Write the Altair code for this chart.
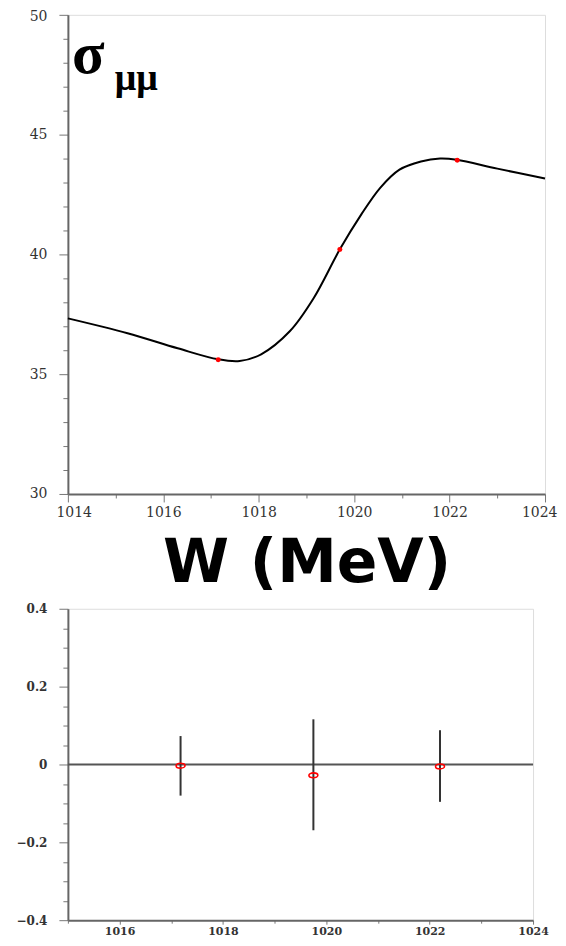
import altair as alt
import pandas as pd

# ---- data: fitted cross section curve (top panel) ----
curve_w = [1014.0, 1015.25, 1016.3, 1017.15, 1017.6, 1018.05, 1018.65, 1019.15,
           1019.7, 1020.15, 1020.55, 1020.95, 1021.4, 1021.8, 1022.15, 1023.0, 1024.0]
curve_s = [37.33, 36.71, 36.08, 35.62, 35.55, 35.83, 36.79, 38.17,
           40.21, 41.67, 42.79, 43.54, 43.88, 44.0, 43.95, 43.58, 43.17]

# ---- data: measured points ----
pt_w = [1017.15, 1019.7, 1022.16]
pt_s = [35.6, 40.2, 43.93]

# ---- data: residuals (bottom panel) ----
res_w = [1017.18, 1019.75, 1022.2]
res_v = [-0.003, -0.028, -0.005]
res_lo = [-0.08, -0.169, -0.096]
res_hi = [0.073, 0.116, 0.088]

top_x_ticks = [1014 + 0.5 * i for i in range(21)]
top_y_ticks = [30 + i for i in range(21)]
bot_x_ticks = [1015 + 0.5 * i for i in range(19)]
bot_y_ticks = [round(-0.4 + 0.05 * i, 2) for i in range(17)]

curve_df = pd.DataFrame({"W": curve_w, "S": curve_s})
pts_df = pd.DataFrame({"W": pt_w, "S": pt_s})
res_df = pd.DataFrame({"W": res_w, "V": res_v, "lo": res_lo, "hi": res_hi})
one = pd.DataFrame({"a": [0]})

DOMAIN = "#666666"
TICK = "#777777"
LAB = "#333333"

xs_top = alt.Scale(domain=[1014, 1024], nice=False, zero=False)
ys_top = alt.Scale(domain=[30, 50], nice=False, zero=False)

x_top_axis = alt.Axis(
    values=top_x_ticks, format="d",
    labelExpr="datum.value % 2 === 0 ? datum.label : ''",
    tickSize={"expr": "datum.value % 2 === 0 ? 8 : 4"},
    grid=False, domainColor=DOMAIN, domainWidth=2, tickColor=TICK,
    labelFont="DejaVu Serif", labelFontSize=14, labelColor=LAB, labelPadding=4,
    labelOverlap=False, labelFlush=True, labelFlushOffset=12,
    title="W (MeV)", titleFont="DejaVu Sans", titleFontWeight="bold",
    titleFontSize=60, titleColor="black", titlePadding=15,
)
y_top_axis = alt.Axis(
    values=top_y_ticks, format="d",
    labelExpr="datum.value % 5 === 0 ? datum.label : ''",
    labelOffset={"expr": "datum.value === 50 ? 2 : 0"},
    tickSize={"expr": "datum.value % 5 === 0 ? 9 : 5"},
    grid=False, domainColor=DOMAIN, domainWidth=2, tickColor=TICK,
    labelFont="DejaVu Serif", labelFontSize=14, labelColor=LAB, labelPadding=12,
    labelOverlap=False, labelFlush=False,
    title=None, minExtent=54,
)

curve = alt.Chart(curve_df).mark_line(color="black", strokeWidth=2, interpolate="catmull-rom").encode(
    x=alt.X("W:Q", scale=xs_top, axis=x_top_axis),
    y=alt.Y("S:Q", scale=ys_top, axis=y_top_axis),
)
dots = alt.Chart(pts_df).mark_point(filled=True, color="red", size=25, opacity=1).encode(
    x=alt.X("W:Q", scale=xs_top, axis=x_top_axis),
    y=alt.Y("S:Q", scale=ys_top, axis=y_top_axis),
)
sigma = alt.Chart(one).mark_text(text="σ", font="Liberation Serif", fontSize=60, fontWeight="bold",
                                 align="left", baseline="alphabetic", color="black").encode(
    x=alt.value(4), y=alt.value(58)
)
mumu = alt.Chart(one).mark_text(text="μμ", font="Liberation Serif", fontSize=38, fontWeight="bold",
                                align="left", baseline="alphabetic", color="black").encode(
    x=alt.value(47), y=alt.value(75)
)

top = alt.layer(curve, dots, sigma, mumu).properties(width=478, height=480)

xs_bot = alt.Scale(domain=[1015, 1024], nice=False, zero=False)
ys_bot = alt.Scale(domain=[-0.4, 0.4], nice=False, zero=False)

x_bot_axis = alt.Axis(
    values=bot_x_ticks, format="d",
    labelExpr="datum.value % 2 === 0 ? datum.label : ''",
    tickSize={"expr": "datum.value % 2 === 0 ? 4 : 3"},
    grid=False, domainColor=DOMAIN, domainWidth=2, tickColor=TICK,
    labelFont="DejaVu Serif", labelFontSize=11, labelFontWeight="bold", labelColor=LAB,
    labelPadding=1, labelOverlap=False, labelFlush=False, title=None,
)
y_bot_axis = alt.Axis(
    values=bot_y_ticks,
    labelExpr="abs(round(datum.value*100)) % 20 === 0 ? format(datum.value, '.1~f') : ''",
    tickSize={"expr": "abs(round(datum.value*100)) % 20 === 0 ? 9 : 5"},
    grid=False, domainColor=DOMAIN, domainWidth=2, tickColor=TICK,
    labelFont="DejaVu Serif", labelFontSize=12, labelFontWeight="bold", labelColor=LAB,
    labelPadding=12, labelOverlap=False, labelFlush=False, title=None, minExtent=54,
)

zero_line = alt.Chart(one).mark_rule(color="#555555", strokeWidth=2).encode(
    y=alt.Y("datum_zero:Q", scale=ys_bot, axis=y_bot_axis)
).transform_calculate(datum_zero="0")
bars = alt.Chart(res_df).mark_rule(color="#333333", strokeWidth=2).encode(
    x=alt.X("W:Q", scale=xs_bot, axis=x_bot_axis),
    y=alt.Y("lo:Q", scale=ys_bot, axis=y_bot_axis),
    y2="hi:Q",
)
ell = "M -1 0 A 1 0.55 0 1 0 1 0 A 1 0.55 0 1 0 -1 0 Z"
marks = alt.Chart(res_df).mark_point(shape=ell, filled=False, color="red", strokeWidth=1.6,
                                     size=80, opacity=1).encode(
    x=alt.X("W:Q", scale=xs_bot, axis=x_bot_axis),
    y=alt.Y("V:Q", scale=ys_bot, axis=y_bot_axis),
)
bottom = alt.layer(zero_line, bars, marks).properties(width=466, height=312)

chart = alt.vconcat(top, bottom, spacing=7).properties(
    padding={"top": 0, "left": 5, "right": 0, "bottom": 0}
).configure_axis(
    labelOverlap=False
).configure_view(
    stroke="#b0b0b0", strokeWidth=2
).configure(background="white")

chart.save("out.html", embed_options={"renderer": "svg", "actions": False})
